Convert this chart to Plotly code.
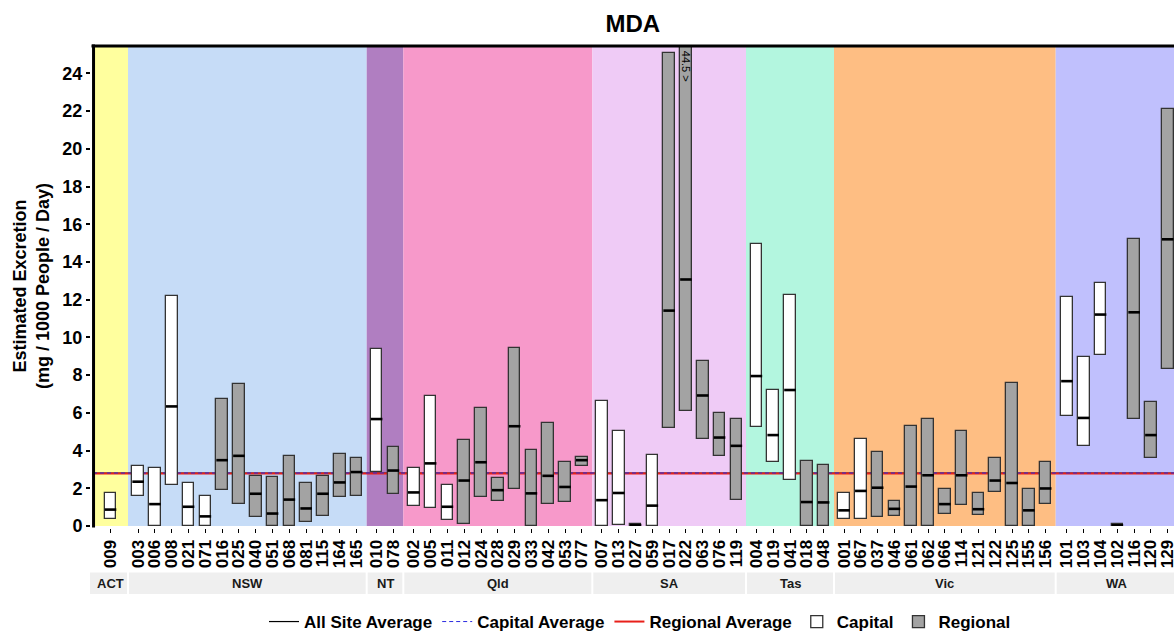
import plotly.graph_objects as go

# ---------------- data ----------------
groups = ["ACT", "NSW", "NT", "Qld", "SA", "Tas", "Vic", "WA"]
group_sites = {
    "ACT": ["009"],
    "NSW": ["003", "006", "008", "021", "071", "016", "025", "040", "051", "068", "081", "115", "164", "165"],
    "NT": ["010", "078"],
    "Qld": ["002", "005", "011", "012", "024", "028", "029", "033", "042", "053", "077"],
    "SA": ["007", "013", "027", "059", "017", "022", "063", "076", "119"],
    "Tas": ["004", "019", "041", "018", "048"],
    "Vic": ["001", "067", "037", "046", "061", "062", "066", "114", "121", "122", "125", "155", "156"],
    "WA": ["101", "103", "104", "102", "116", "120", "129"],
}
group_types = {
    "ACT": ["C"],
    "NSW": ["C"] * 5 + ["R"] * 9,
    "NT": ["C", "R"],
    "Qld": ["C"] * 3 + ["R"] * 8,
    "SA": ["C"] * 4 + ["R"] * 5,
    "Tas": ["C"] * 3 + ["R"] * 2,
    "Vic": ["C"] * 2 + ["R"] * 11,
    "WA": ["C"] * 3 + ["R"] * 4,
}
low = {
    "ACT": [0.36],
    "NSW": [1.59, 0.0, 2.2, 0.0, 0.0, 1.9, 1.18, 0.46, 0.0, 0.0, 0.23, 0.55, 1.54, 1.57],
    "NT": [2.88, 1.71],
    "Qld": [1.08, 0.95, 0.32, 0.13, 1.56, 1.33, 1.94, 0.0, 1.18, 1.27, 3.17],
    "SA": [0.0, 0.03, 0.0, 0.0, 5.22, 6.11, 4.63, 3.72, 1.37],
    "Tas": [5.24, 3.38, 2.45, 0.0, 0.0],
    "Vic": [0.36, 0.36, 0.47, 0.55, 0.0, 0.0, 0.66, 1.14, 0.61, 1.78, 0.0, 0.0, 1.18],
    "WA": [5.82, 4.25, 9.07, 0.0, 5.69, 3.6, 8.33],
}
mid = {
    "ACT": [0.87],
    "NSW": [2.35, 1.16, 6.34, 1.02, 0.51, 3.49, 3.72, 1.71, 0.66, 1.4, 0.93, 1.71, 2.31, 2.86],
    "NT": [5.67, 2.94],
    "Qld": [1.78, 3.32, 1.02, 2.41, 3.38, 1.9, 5.29, 1.73, 2.66, 2.07, 3.49],
    "SA": [1.37, 1.75, 0.05, 1.08, 11.42, 13.07, 6.92, 4.69, 4.25],
    "Tas": [7.95, 4.82, 7.21, 1.27, 1.25],
    "Vic": [0.83, 1.86, 2.03, 0.91, 2.09, 2.69, 1.16, 2.69, 0.89, 2.41, 2.28, 0.83, 1.99],
    "WA": [7.68, 5.73, 11.21, 0.04, 11.33, 4.82, 15.2],
}
high = {
    "ACT": [1.75],
    "NSW": [3.17, 3.07, 12.18, 2.26, 1.61, 6.72, 7.51, 2.64, 2.6, 3.72, 2.28, 2.64, 3.81, 3.62],
    "NT": [9.41, 4.21],
    "Qld": [3.07, 6.87, 2.18, 4.55, 6.26, 2.54, 9.45, 4.02, 5.44, 3.38, 3.68],
    "SA": [6.64, 5.03, 0.12, 3.78, 25.08, 44.5, 8.75, 5.98, 5.65],
    "Tas": [14.95, 7.21, 12.27, 3.45, 3.23],
    "Vic": [1.75, 4.63, 3.93, 1.33, 5.29, 5.69, 1.97, 5.03, 1.75, 3.62, 7.59, 1.95, 3.38],
    "WA": [12.12, 8.95, 12.88, 0.09, 15.22, 6.58, 22.1],
}
all_site_avg = 2.80
capital_avg = 2.81
regional_avg = 2.79
y_ticks = list(range(0, 25, 2))

# ---------------- layout constants ----------------
bg_colors = {
    "ACT": "#FFFF9E", "NSW": "#C6DCF7", "NT": "#B07EC1", "Qld": "#F799CA",
    "SA": "#EFCBF6", "Tas": "#B3F6DF", "Vic": "#FEBE83", "WA": "#C0C0FD",
}
bounds = [93, 128, 366.7, 403.3, 592.3, 746, 834, 1055.7, 1179]
x_range = [93, 1174]
y_range = [0, 25.45]
step = 16.8
box_w = 11.6
M_L, M_R, M_T, M_B = 93, 0, 46, 106
PLOT_H = 632 - M_T - M_B

def px_paper(x):
    return (x - x_range[0]) / (x_range[1] - x_range[0])

def py_paper(y):
    return (632 - M_B - y) / PLOT_H

# positions
cap = dict(x=[], base=[], h=[])
reg = dict(x=[], base=[], h=[])
med_x, med_y = [], []
tickvals, ticktext = [], []
over = []
for gi, g in enumerate(groups):
    n = len(group_sites[g])
    c = (bounds[gi] + bounds[gi + 1]) / 2
    for i, s in enumerate(group_sites[g]):
        xp = c + (i - (n - 1) / 2) * step
        tickvals.append(xp)
        ticktext.append(s)
        d = cap if group_types[g][i] == "C" else reg
        d["x"].append(xp)
        d["base"].append(low[g][i])
        d["h"].append(high[g][i] - low[g][i])
        med_x += [xp - box_w / 2, xp + box_w / 2, None]
        med_y += [mid[g][i], mid[g][i], None]
        if high[g][i] > y_range[1]:
            over.append((xp, high[g][i]))

fig = go.Figure()

xs_line = [x_range[0], x_range[1]]
fig.add_trace(go.Scatter(x=xs_line, y=[all_site_avg] * 2, mode="lines", zorder=0,
                         line=dict(color="black", width=1.2), name="All Site Average",
                         legendrank=1))
fig.add_trace(go.Scatter(x=xs_line, y=[regional_avg] * 2, mode="lines", zorder=0,
                         line=dict(color="#E8201A", width=2), name="Regional Average",
                         legendrank=3))
fig.add_trace(go.Scatter(x=xs_line, y=[capital_avg] * 2, mode="lines", zorder=0,
                         line=dict(color="#2A2AE0", width=1, dash="4px,3px"), name="Capital Average",
                         legendrank=2))

fig.add_trace(go.Bar(x=cap["x"], base=cap["base"], y=cap["h"], width=box_w, zorder=1,
                     marker=dict(color="white", line=dict(color="#333333", width=1.3)),
                     name="Capital", legendrank=4))
fig.add_trace(go.Bar(x=reg["x"], base=reg["base"], y=reg["h"], width=box_w, zorder=1,
                     marker=dict(color="#A3A3A3", line=dict(color="#333333", width=1.3)),
                     name="Regional", legendrank=5))
fig.add_trace(go.Scatter(x=med_x, y=med_y, mode="lines", line=dict(color="black", width=2.6),
                         zorder=2, showlegend=False, hoverinfo="skip"))

shapes = []
annotations = []
for gi, g in enumerate(groups):
    shapes.append(dict(type="rect", xref="x", yref="paper", x0=bounds[gi], x1=bounds[gi + 1],
                       y0=0, y1=1, fillcolor=bg_colors[g], line=dict(width=0), layer="below"))
    sx0 = bounds[gi] + 1 if gi > 0 else 90
    sx1 = min(bounds[gi + 1] - 1, x_range[1])
    shapes.append(dict(type="rect", xref="paper", yref="paper", x0=px_paper(sx0), x1=px_paper(sx1),
                       y0=py_paper(594), y1=py_paper(572.5), fillcolor="#EFEFEF", line=dict(width=0)))
    cx = (bounds[gi] + bounds[gi + 1]) / 2
    annotations.append(dict(text=g, xref="paper", yref="paper", x=px_paper(cx), y=py_paper(583),
                            showarrow=False, xanchor="center", yanchor="middle",
                            font=dict(family="Liberation Sans", size=13, color="#1A1A1A", weight="bold")))
# panel border (top and left)
shapes.append(dict(type="line", xref="paper", yref="paper", x0=-0.0014, x1=1, y0=1, y1=1,
                   line=dict(color="black", width=3)))
shapes.append(dict(type="line", xref="paper", yref="paper", x0=0.0005, x1=0.0005, y0=-0.003, y1=1.003,
                   line=dict(color="black", width=3)))

for xp, v in over:
    annotations.append(dict(text=f"{v} >", x=xp, y=24.35, xref="x", yref="y", textangle=90,
                            showarrow=False, font=dict(family="Liberation Sans", size=11, color="black")))

annotations.append(dict(text="Estimated Excretion<br>(mg / 1000 People / Day)", xref="paper", yref="paper",
                        x=px_paper(31), y=0.5, textangle=-90, showarrow=False,
                        xanchor="center", yanchor="middle",
                        font=dict(family="Liberation Sans", size=18, color="black", weight="bold")))

fig.update_layout(
    width=1174, height=632,
    margin=dict(l=M_L, r=M_R, t=M_T, b=M_B, autoexpand=False),
    plot_bgcolor="white", paper_bgcolor="white",
    barmode="overlay", bargap=0,
    title=dict(text="MDA", x=0.539, y=0.962, xanchor="center", yanchor="middle",
               font=dict(family="Liberation Sans", size=24, color="black", weight="bold")),
    showlegend=True,
    legend=dict(orientation="h", x=px_paper(640), xanchor="center", y=py_paper(622), yanchor="middle",
                traceorder="normal", itemwidth=30, tracegroupgap=0,
                font=dict(family="Liberation Sans", size=17, color="black", weight="bold"),
                bgcolor="rgba(0,0,0,0)"),
    shapes=shapes, annotations=annotations,
)
fig.update_xaxes(range=x_range, tickvals=tickvals, ticktext=ticktext, tickangle=-90,
                 ticks="outside", ticklen=4, tickwidth=1, tickcolor="black", automargin=False,
                 ticklabeloverflow="allow",
                 tickfont=dict(family="Liberation Sans", size=17, color="black", weight="bold"),
                 showline=True, linecolor="black", linewidth=3, showgrid=False, zeroline=False)
fig.update_yaxes(range=y_range, tickvals=y_ticks, ticks="outside", ticklen=4, tickwidth=1.5,
                 tickcolor="black", automargin=False,
                 tickfont=dict(family="Liberation Sans", size=18, color="black", weight="bold"),
                 showline=True, linecolor="black", linewidth=3, showgrid=False, zeroline=False)

fig.write_html("out.html", config={"displayModeBar": False},
               post_script="document.body.style.margin='0';document.body.style.overflow='hidden';")
